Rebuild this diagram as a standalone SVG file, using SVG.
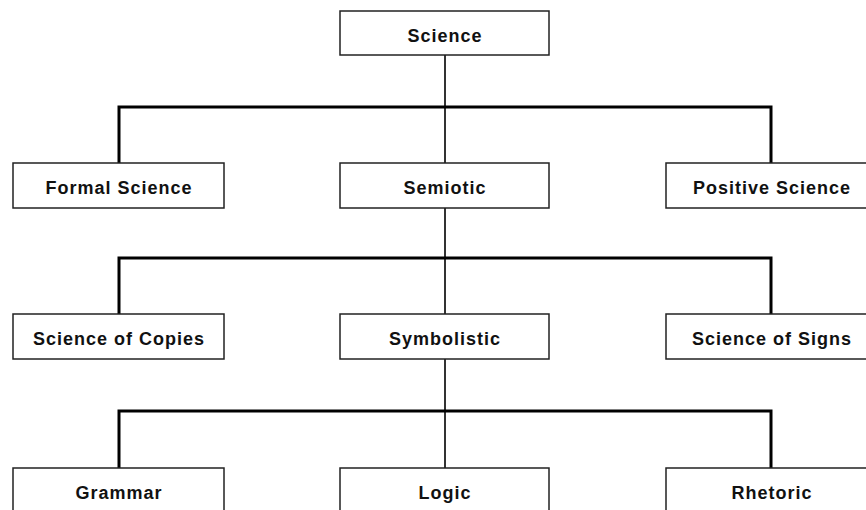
<svg xmlns="http://www.w3.org/2000/svg" width="866" height="510" viewBox="0 0 866 510">
<style>
.box{fill:#fff;stroke:#222;stroke-width:1.5}
.lbl{font-family:"Liberation Sans",Arial,sans-serif;font-weight:bold;font-size:18px;fill:#111;text-anchor:middle;letter-spacing:1px}
.bar{stroke:#000;stroke-width:3;fill:none}
.stem{stroke:#333;stroke-width:2;fill:none}
</style>
<rect width="866" height="510" fill="#fff"/>
<g id="connectors">
<line class="stem" x1="445" y1="55" x2="445" y2="163"/>
<path class="bar" d="M119,163 V107 H771 V163"/>
<line class="stem" x1="445" y1="208" x2="445" y2="314"/>
<path class="bar" d="M119,314 V258 H771 V314"/>
<line class="stem" x1="445" y1="359" x2="445" y2="468"/>
<path class="bar" d="M119,468 V411 H771 V468"/>
</g>
<g id="science"><rect class="box" x="340" y="11" width="209" height="44"/><text class="lbl" x="445" y="42">Science</text></g>
<g id="formal-science"><rect class="box" x="13" y="163" width="211" height="45"/><text class="lbl" x="119" y="194">Formal Science</text></g>
<g id="semiotic"><rect class="box" x="340" y="163" width="209" height="45"/><text class="lbl" x="445" y="194">Semiotic</text></g>
<g id="positive-science"><rect class="box" x="666" y="163" width="211" height="45"/><text class="lbl" x="772" y="194">Positive Science</text></g>
<g id="science-of-copies"><rect class="box" x="13" y="314" width="211" height="45"/><text class="lbl" x="119" y="345">Science of Copies</text></g>
<g id="symbolistic"><rect class="box" x="340" y="314" width="209" height="45"/><text class="lbl" x="445" y="345">Symbolistic</text></g>
<g id="science-of-signs"><rect class="box" x="666" y="314" width="211" height="45"/><text class="lbl" x="772" y="345">Science of Signs</text></g>
<g id="grammar"><rect class="box" x="13" y="468" width="211" height="50"/><text class="lbl" x="119" y="499">Grammar</text></g>
<g id="logic"><rect class="box" x="340" y="468" width="209" height="50"/><text class="lbl" x="445" y="499">Logic</text></g>
<g id="rhetoric"><rect class="box" x="666" y="468" width="211" height="50"/><text class="lbl" x="772" y="499">Rhetoric</text></g>
</svg>
